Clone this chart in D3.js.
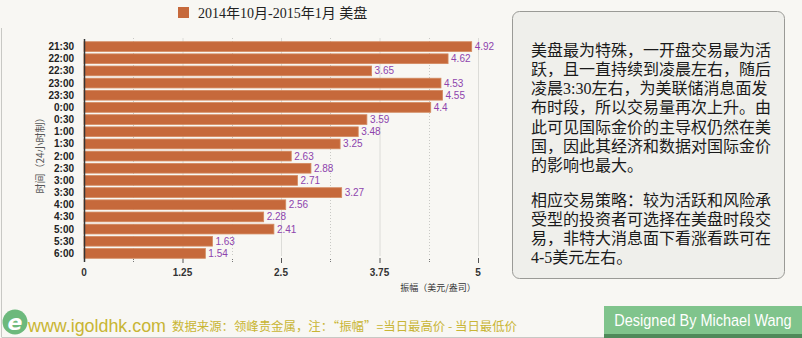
<!DOCTYPE html>
<html><head><meta charset="utf-8">
<script src="https://cdn.jsdelivr.net/npm/d3@7"></script>
<style>
html,body{margin:0;padding:0;background:#f8f7f3;}
svg{display:block;}
</style></head>
<body>
<svg id="c" width="802" height="338"></svg>
<script>
const categories = ["21:30","22:00","22:30","23:00","23:30","0:00","0:30","1:00","1:30","2:00","2:30","3:00","3:30","4:00","4:30","5:00","5:30","6:00"];
const values = [4.92,4.62,3.65,4.53,4.55,4.4,3.59,3.48,3.25,2.63,2.88,2.71,3.27,2.56,2.28,2.41,1.63,1.54];
const xTicks = [0,1.25,2.5,3.75,5];
const xMinorTicks = [0.625,1.875,3.125,4.375];
const xTickLabels = ["0","1.25","2.5","3.75","5"];
const seriesName = "2014年10月-2015年1月 美盘";
const yTitle = "时间（24小时制）";
const xTitle = "振幅（美元/盎司）";
const noteLines1 = ["美盘最为特殊，一开盘交易最为活","跃，且一直持续到凌晨左右，随后","凌晨3:30左右，为美联储消息面发","布时段，所以交易量再次上升。由","此可见国际金价的主导权仍然在美","国，因此其经济和数据对国际金价","的影响也最大。"];
const noteLines2 = ["相应交易策略：较为活跃和风险承","受型的投资者可选择在美盘时段交","易，非特大消息面下看涨看跌可在","4-5美元左右。"];
const footerSite = "www.igoldhk.com";
const footerNote = "数据来源：领峰贵金属，注：“振幅”=当日最高价 - 当日最低价";
const credit = "Designed By Michael Wang";

const svg = d3.select("#c");
const serif = "'Liberation Serif','DejaVu Serif','Noto Sans CJK SC',serif";
const sans = "'Noto Sans CJK SC','Noto Sans',sans-serif";
const lab = "'Liberation Sans','Noto Sans',sans-serif";
const barColor = "#c6693b";

// frame
svg.append("rect").attr("x",0).attr("y",0).attr("width",802).attr("height",338).attr("fill","#f8f7f3");
svg.append("line").attr("x1",1.5).attr("x2",1.5).attr("y1",28).attr("y2",337).attr("stroke","#c8c8c4");
svg.append("line").attr("x1",1.5).attr("x2",802).attr("y1",337.5).attr("y2",337.5).attr("stroke","#c8c8c4");

const x = d3.scaleLinear().domain([0,5]).range([84,478]);
const y = d3.scaleBand().domain(categories).range([40.5,259.5]).paddingInner(0.2).paddingOuter(0.1);

// grid
svg.append("g").selectAll("line").data(xTicks.slice(1)).join("line")
  .attr("x1",d=>x(d)+0.5).attr("x2",d=>x(d)+0.5).attr("y1",38).attr("y2",256)
  .attr("stroke","#dcdcd8").attr("stroke-width",1);
svg.append("g").selectAll("line").data(xMinorTicks).join("line")
  .attr("x1",d=>Math.round(x(d))+0.5).attr("x2",d=>Math.round(x(d))+0.5).attr("y1",38).attr("y2",256)
  .attr("stroke","#c9c9c5").attr("stroke-width",1).attr("stroke-dasharray","1,2");

// ticks below
svg.append("g").selectAll("line").data(xTicks.slice(1)).join("line")
  .attr("x1",d=>x(d)+0.5).attr("x2",d=>x(d)+0.5).attr("y1",258).attr("y2",263)
  .attr("stroke","#555").attr("stroke-width",1);
svg.append("g").selectAll("line").data(xMinorTicks).join("line")
  .attr("x1",d=>Math.round(x(d))+0.5).attr("x2",d=>Math.round(x(d))+0.5).attr("y1",259).attr("y2",263)
  .attr("stroke","#777").attr("stroke-width",1).attr("stroke-dasharray","1,1");

// x tick labels
svg.append("g").selectAll("text").data(xTicks).join("text")
  .attr("x",d=>x(d)).attr("y",276).attr("text-anchor","middle")
  .attr("font-family",lab).attr("font-size",10).attr("font-weight","bold").attr("fill","#333")
  .text((d,i)=>xTickLabels[i]);

// bars
svg.append("g").selectAll("rect").data(values).join("rect")
  .attr("x",x(0)).attr("y",(d,i)=>y(categories[i]))
  .attr("width",d=>x(d)-x(0)).attr("height",y.bandwidth())
  .attr("fill",barColor).attr("stroke","#d48a60").attr("stroke-width",0.8);

// value labels
svg.append("g").selectAll("text").data(values).join("text")
  .attr("x",d=>x(d)+3).attr("y",(d,i)=>y(categories[i])+y.bandwidth()/2+3.5)
  .attr("font-family",lab).attr("font-size",10).attr("fill","#8e44ad")
  .text(d=>d);

// y axis line
svg.append("line").attr("x1",84.5).attr("x2",84.5).attr("y1",39).attr("y2",262).attr("stroke","#333").attr("stroke-width",1.5);

// y labels
svg.append("g").selectAll("text").data(categories).join("text")
  .attr("x",74).attr("y",d=>y(d)+y.bandwidth()/2+3.5).attr("text-anchor","end")
  .attr("font-family",lab).attr("font-size",10).attr("font-weight","bold").attr("fill","#222")
  .text(d=>d);

// axis titles
svg.append("text").attr("transform","translate(44,153) rotate(-90)").attr("text-anchor","middle")
  .attr("font-family",sans).attr("font-size",10).attr("fill","#555").text(yTitle);
svg.append("text").attr("x",438).attr("y",291).attr("text-anchor","middle")
  .attr("font-family",sans).attr("font-size",9).attr("fill","#333").text(xTitle);

// legend
svg.append("rect").attr("x",178).attr("y",7).attr("width",11).attr("height",11).attr("fill",barColor);
svg.append("text").attr("x",198).attr("y",18).attr("font-family",serif).attr("font-size",14).attr("fill","#222").text(seriesName);

// note box
svg.append("rect").attr("x",512.5).attr("y",11.5).attr("width",272).attr("height",267).attr("rx",7)
  .attr("fill","#efefeb").attr("stroke","#9a9a96").attr("stroke-width",1);
const nt = svg.append("g").attr("font-family",serif).attr("font-size",16).attr("fill","#1a1a1a");
nt.selectAll("text.p1").data(noteLines1).join("text").attr("class","p1")
  .attr("x",531).attr("y",(d,i)=>55.5+i*19.3).text(d=>d);
nt.selectAll("text.p2").data(noteLines2).join("text").attr("class","p2")
  .attr("x",531).attr("y",(d,i)=>205.5+i*19.3).text(d=>d);

// footer logo
svg.append("circle").attr("cx",15).attr("cy",322).attr("r",12.5).attr("fill","#6cb97c");
svg.append("text").attr("x",15).attr("y",330).attr("text-anchor","middle").attr("font-family","'DejaVu Sans',sans-serif")
  .attr("font-style","italic").attr("font-weight","bold").attr("font-size",22).attr("fill","#fff").text("e");
svg.append("text").attr("x",28).attr("y",332).attr("font-family",lab)
  .attr("font-size",19).attr("fill","#c8b534").attr("textLength",138).attr("lengthAdjust","spacingAndGlyphs").text(footerSite);
svg.append("text").attr("x",172).attr("y",331).attr("font-family",sans)
  .attr("font-size",12).attr("fill","#c8b534").attr("textLength",345).attr("lengthAdjust","spacingAndGlyphs").text(footerNote);

// credit box
svg.append("rect").attr("x",604).attr("y",306).attr("width",198).attr("height",32).attr("fill","#80c48c");
svg.append("rect").attr("x",604).attr("y",334).attr("width",198).attr("height",4).attr("fill","#4f8a5a");
svg.append("text").attr("transform","translate(703,326) scale(1,1.12)").attr("text-anchor","middle").attr("font-family",lab)
  .attr("font-size",14.5).attr("fill","#fff").text(credit);
</script>
</body></html>
